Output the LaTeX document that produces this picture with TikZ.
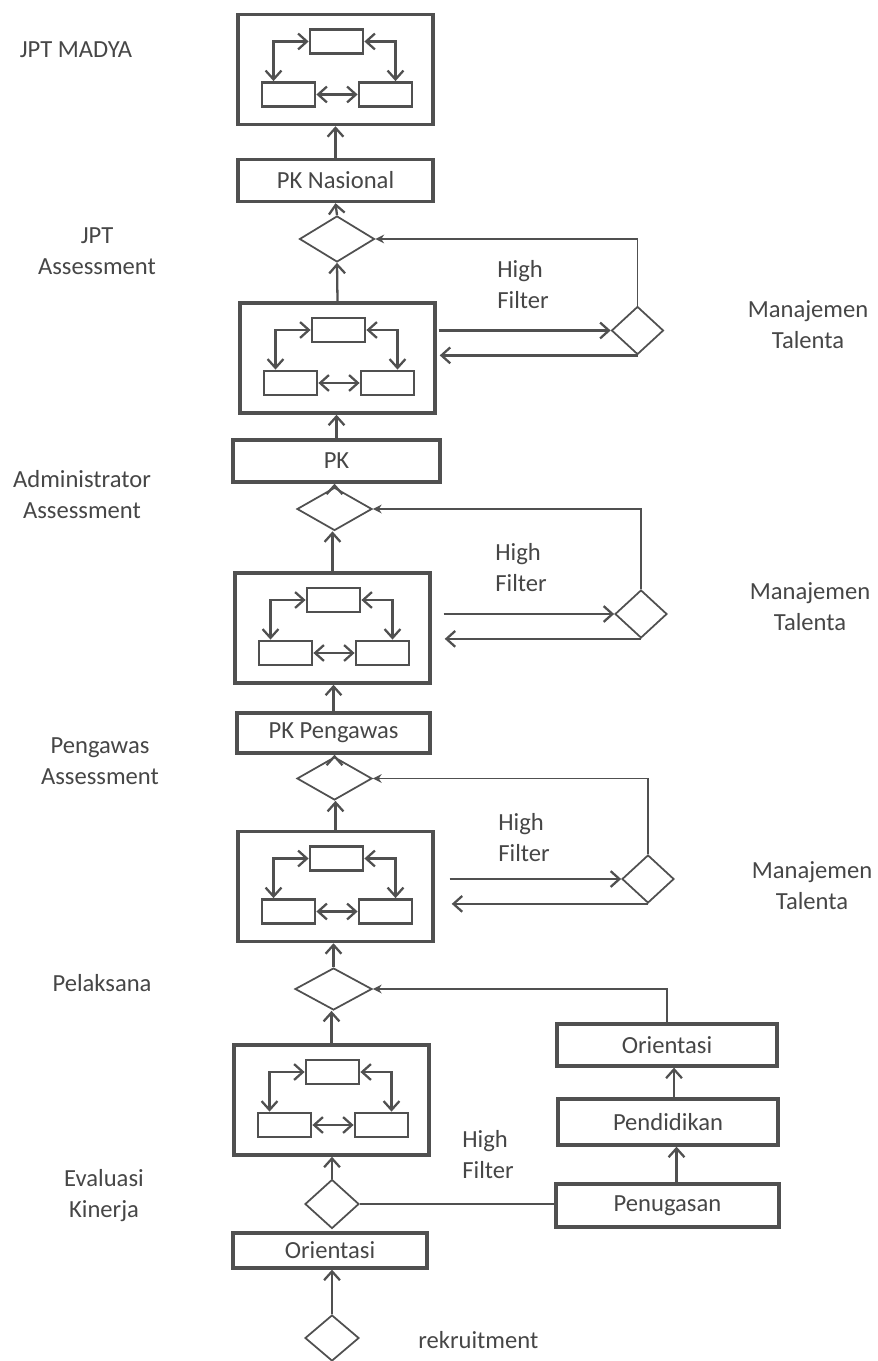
\documentclass[tikz,border=0pt]{standalone}
\usepackage{fontspec}
\setmainfont{Carlito}
\usepackage{xcolor}
\usepackage{tikz}
\usetikzlibrary{positioning,shapes.geometric,arrows.meta}
\definecolor{linegray}{RGB}{80,80,80}
\definecolor{textgray}{RGB}{70,70,70}
\tikzset{>={Straight Barb[length=5pt,width=9pt]}}
\tikzset{basic/.style={draw=linegray,text=textgray,font=\fontsize{14}{17.6}\selectfont,inner sep=0pt}}
\tikzset{level/.style={basic,rectangle,line width=2pt,minimum width=3.9cm,minimum height=2.2cm}}
\tikzset{unit/.style={basic,rectangle,line width=1.6pt,minimum width=1.06cm,minimum height=0.48cm}}
\tikzset{stage/.style={basic,rectangle,line width=1.9pt,minimum width=3.9cm,minimum height=0.84cm}}
\tikzset{gate/.style={basic,diamond,line width=1pt,minimum width=1.5cm,minimum height=0.86cm}}
\tikzset{smallgate/.style={gate,minimum width=1.04cm,minimum height=0.96cm}}
\tikzset{caption/.style={text=textgray,font=\fontsize{14}{17.6}\selectfont,align=center,inner sep=0pt}}
\tikzset{flow/.style={draw=linegray,line width=1.3pt,->}}
\tikzset{back/.style={draw=linegray,line width=1.1pt,-{Stealth[length=5pt,width=5pt]}}}
\newcommand{\units}[3]{%
  \begin{scope}[shift={(#2,#3)}]
    \node[unit] (#1top) at (1,-28) {};
    \node[unit] (#1left) at (-47,25) {};
    \node[unit] (#1right) at (50,25) {};
  \end{scope}
  \draw[flow,<->] ([xshift=-0.3cm]#1left.north) |- (#1top.west);
  \draw[flow,<->] ([xshift=0.2cm]#1right.north) |- (#1top.east);
  \draw[flow,<->] (#1left) -- (#1right);
}

\begin{document}
\begin{tikzpicture}[x=0.02cm,y=-0.02cm]
	\useasboundingbox (0,0) rectangle (878,1361);
	% JPT Madya
	\node[level] (lv1) at (335.5,69.5) {};
	\units{a}{335.5}{69.5}
	\node[stage] (pknas) at (335.5,180.5) {PK Nasional};
	\path[flow] (pknas.north) -- (lv1.south);
	\node[caption] (jptmadya) at (76,50) {JPT MADYA};
	% JPT Assessment
	\node[gate,minimum height=0.92cm] (g1) at (337,239) {};
	\path[flow] (g1.north) -- (pknas.south);
	\node[level] (lv2) at (337.5,358) {};
	\units{b}{337.5}{358}
	\path[flow] (lv2.north) -- (g1.south);
	\node[smallgate] (mt1) at (637.5,330.5) {};
	\path[flow,shorten <=0.04cm] (lv2.east |- mt1.west) -- (mt1.west);
	\path[flow,shorten >=0.06cm] (mt1.south) -- (mt1.south -| lv2.east);
	\path[back] (mt1.north) |- (g1.east);
	\node[caption] (jptas) at (97,251) {JPT\\Assessment};
	\node[caption,align=left,anchor=west] (hf1) at (497,284.5) {High\\Filter};
	\node[caption] (talenta1) at (808,325) {Manajemen\\Talenta};
	% Administrator
	\node[stage,minimum width=4.14cm] (pk) at (336.5,461) {PK};
	\path[flow] (pk.north) -- (pk.north |- lv2.south);
	\node[gate] (g2) at (334.5,509) {};
	\path[flow] (g2.north) -- (g2.north |- pk.south);
	\node[level] (lv3) at (332.5,628) {};
	\units{c}{332.5}{628}
	\path[flow] (lv3.north) -- (lv3.north |- g2.south);
	\node[smallgate] (mt2) at (641,614) {};
	\path[flow,shorten <=0.24cm] (lv3.east |- mt2.west) -- (mt2.west);
	\path[flow,shorten >=0.26cm] (mt2.south) -- (mt2.south -| lv3.east);
	\path[back] (mt2.north) |- (g2.east);
	\node[caption] (admas) at (82,495) {Administrator\\Assessment};
	\node[caption,align=left,anchor=west] (hf2) at (495,567.5) {High\\Filter};
	\node[caption] (talenta2) at (810,607) {Manajemen\\Talenta};
	% Pengawas
	\node[stage,minimum width=3.86cm,minimum height=0.8cm] (pkpeng) at (333.5,733) {PK Pengawas};
	\path[flow] (pkpeng.north) -- (pkpeng.north |- lv3.south);
	\node[gate] (g3) at (334.5,778.5) {};
	\path[flow] (g3.north) -- (g3.north |- pkpeng.south);
	\node[level] (lv4) at (335.5,886.5) {};
	\units{d}{335.5}{886.5}
	\path[flow] (lv4.north) -- (lv4.north |- g3.south);
	\node[smallgate] (mt3) at (648,879) {};
	\path[flow,shorten <=0.3cm] (lv4.east |- mt3.west) -- (mt3.west);
	\path[flow,shorten >=0.34cm] (mt3.south) -- (mt3.south -| lv4.east);
	\path[back] (mt3.north) |- (g3.east);
	\node[caption] (pengas) at (100,761) {Pengawas\\Assessment};
	\node[caption,align=left,anchor=west] (hf3) at (498,838) {High\\Filter};
	\node[caption] (talenta3) at (812,886) {Manajemen\\Talenta};
	% Pelaksana
	\node[gate,minimum width=1.54cm,minimum height=0.84cm] (g4) at (333.5,989) {};
	\path[flow] (g4.north) -- (g4.north |- lv4.south);
	\node[level] (lv5) at (331.5,1100) {};
	\units{e}{331.5}{1100}
	\path[flow] (lv5.north) -- (lv5.north |- g4.south);
	\node[stage,minimum width=4.4cm] (orient2) at (667,1045) {Orientasi};
	\node[stage,minimum width=4.4cm,minimum height=0.92cm] (didik) at (668,1122) {Pendidikan};
	\node[stage,minimum width=4.46cm,minimum height=0.86cm] (tugas) at (667.5,1205.5) {Penugasan};
	\path[flow] ([xshift=0.12cm]didik.north) -- ([xshift=0.12cm]didik.north |- orient2.south);
	\path[flow] ([xshift=0.18cm]tugas.north) -- ([xshift=0.18cm]tugas.north |- didik.south);
	\path[back] (orient2.north) |- (g4.east);
	\node[caption] (pelaksana) at (102,983) {Pelaksana};
	% Evaluasi kinerja dan rekrutmen
	\node[smallgate,minimum width=1.08cm,minimum height=0.98cm] (g5) at (332,1204) {};
	\path[flow] (g5.north) -- (g5.north |- lv5.south);
	\path[draw=linegray,line width=1.1pt] (g5.east) -- (g5.east -| tugas.west);
	\node[stage,minimum width=3.88cm,minimum height=0.7cm] (orient) at (330,1250.5) {Orientasi};
	\node[smallgate,minimum width=1.08cm,minimum height=0.92cm] (rekrut) at (332,1338) {};
	\path[flow] (rekrut.north) -- (rekrut.north |- orient.south);
	\node[caption,align=left,anchor=west] (hf4) at (462,1154.5) {High\\Filter};
	\node[caption] (evalkin) at (104,1196) {Evaluasi\\Kinerja};
	\node[caption,anchor=west] (rekrutlbl) at (418,1340) {rekruitment};
\end{tikzpicture}
\end{document}
